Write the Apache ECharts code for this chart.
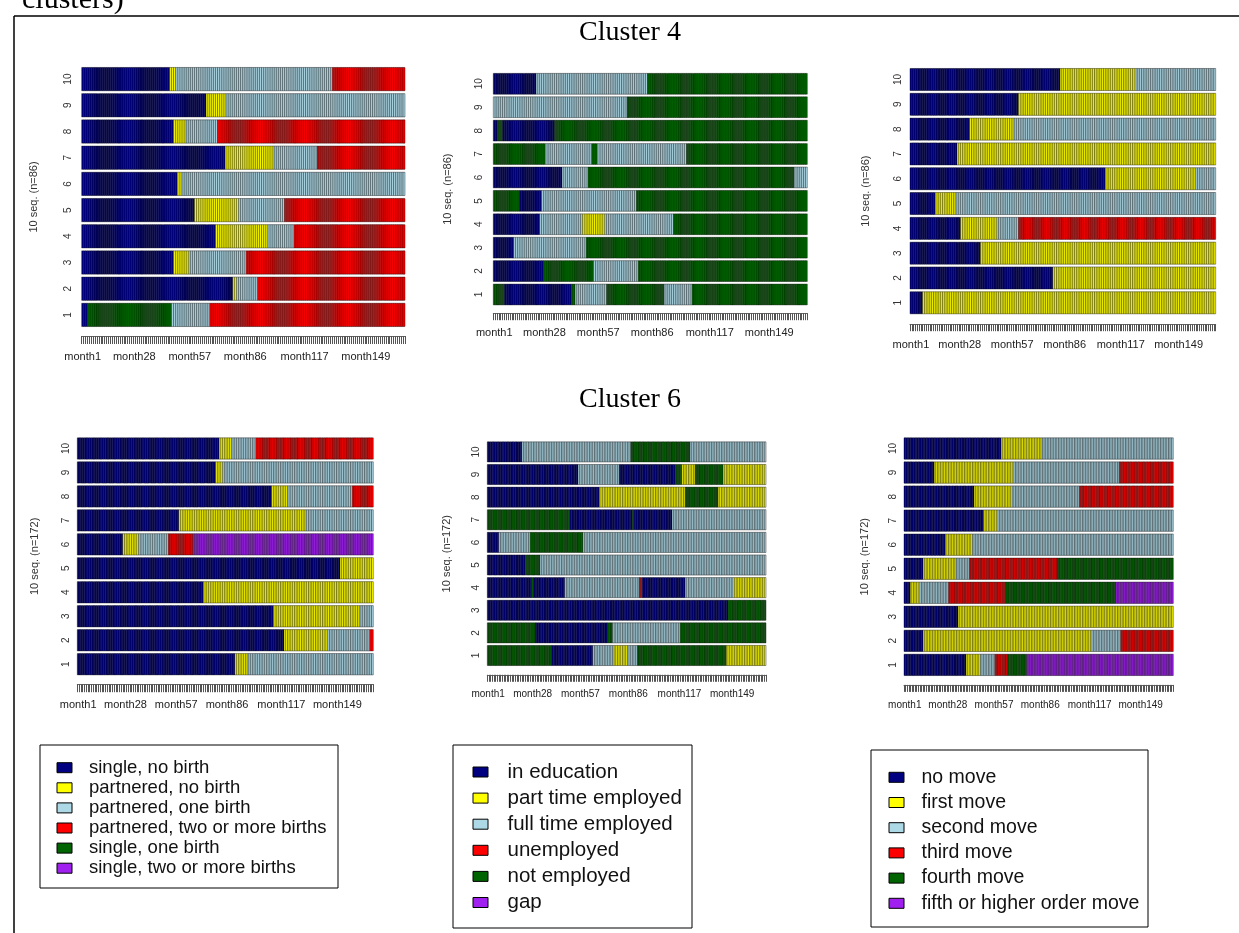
<!DOCTYPE html>
<html>
<head>
<meta charset="utf-8">
<script src="https://cdn.jsdelivr.net/npm/echarts@6/dist/echarts.min.js"></script>
<style>
  html, body { margin: 0; padding: 0; background: #fff; }
  #chart { width: 1239px; height: 933px; }
</style>
</head>
<body>
<div id="chart"></div>
<script>
// ---- time axis ----
const MONTH_COUNT = 169;
const months = Array.from({ length: MONTH_COUNT }, (_, i) => 'month' + (i + 1));
const monthTickLabels = ['month1', 'month28', 'month57', 'month86', 'month117', 'month149'];
const sequenceNumbers = ['1', '2', '3', '4', '5', '6', '7', '8', '9', '10'];

// ---- state alphabets (same colour order for all three channels) ----
const stateColors = ['#000080', '#FFFF00', '#ADD8E6', '#FF0000', '#006400', '#A020F0'];
const familyStates = ['single, no birth', 'partnered, no birth', 'partnered, one birth',
  'partnered, two or more births', 'single, one birth', 'single, two or more births'];
const activityStates = ['in education', 'part time employed', 'full time employed',
  'unemployed', 'not employed', 'gap'];
const residenceStates = ['no move', 'first move', 'second move', 'third move',
  'fourth move', 'fifth or higher order move'];

// ---- sequences: each row is a list of spells [state, last month of spell], rows 1..10 ----
const family4 = [
  [[0, 3], [4, 47], [2, 67], [3, 169]],
  [[0, 79], [1, 81], [2, 92], [3, 169]],
  [[0, 48], [1, 56], [2, 86], [3, 169]],
  [[0, 70], [1, 97], [2, 111], [3, 169]],
  [[0, 59], [1, 82], [2, 106], [3, 169]],
  [[0, 50], [1, 52], [2, 169]],
  [[0, 75], [1, 100], [2, 123], [3, 169]],
  [[0, 48], [1, 54], [2, 71], [3, 169]],
  [[0, 65], [1, 75], [2, 169]],
  [[0, 46], [1, 49], [2, 131], [3, 169]]
];
const activity4 = [
  [[4, 6], [0, 42], [4, 44], [2, 61], [4, 92], [2, 107], [4, 169]],
  [[0, 27], [4, 54], [2, 78], [4, 169]],
  [[0, 11], [2, 50], [4, 169]],
  [[0, 25], [2, 48], [1, 60], [2, 97], [4, 169]],
  [[4, 14], [0, 26], [2, 77], [4, 169]],
  [[0, 37], [2, 51], [4, 162], [2, 169]],
  [[4, 28], [2, 53], [4, 56], [2, 104], [4, 169]],
  [[0, 2], [4, 5], [0, 33], [4, 169]],
  [[2, 72], [4, 169]],
  [[0, 23], [2, 83], [4, 169]]
];
const residence4 = [
  [[0, 7], [1, 169]],
  [[0, 79], [1, 169]],
  [[0, 39], [1, 169]],
  [[0, 28], [1, 48], [2, 60], [3, 169]],
  [[0, 14], [1, 25], [2, 169]],
  [[0, 108], [1, 158], [2, 169]],
  [[0, 26], [1, 169]],
  [[0, 33], [1, 57], [2, 169]],
  [[0, 60], [1, 169]],
  [[0, 83], [1, 125], [2, 169]]
];
const family6 = [
  [[0, 90], [1, 97], [2, 169]],
  [[0, 118], [1, 143], [2, 167], [3, 169]],
  [[0, 112], [1, 161], [2, 169]],
  [[0, 72], [1, 169]],
  [[0, 150], [1, 169]],
  [[0, 26], [1, 35], [2, 52], [3, 66], [5, 169]],
  [[0, 58], [1, 130], [2, 169]],
  [[0, 111], [1, 120], [2, 157], [3, 169]],
  [[0, 79], [1, 83], [2, 169]],
  [[0, 81], [1, 88], [2, 102], [3, 169]]
];
const activity6 = [
  [[4, 39], [0, 64], [2, 77], [1, 85], [2, 91], [4, 145], [1, 169]],
  [[4, 29], [0, 73], [4, 76], [2, 117], [4, 169]],
  [[0, 146], [4, 169]],
  [[0, 27], [4, 28], [0, 47], [2, 92], [3, 94], [0, 120], [2, 149], [1, 169]],
  [[0, 23], [4, 32], [2, 169]],
  [[0, 7], [2, 26], [4, 58], [2, 169]],
  [[4, 50], [0, 88], [4, 89], [0, 112], [2, 169]],
  [[0, 68], [1, 120], [4, 140], [1, 169]],
  [[0, 55], [2, 80], [0, 114], [4, 118], [1, 126], [4, 143], [1, 169]],
  [[0, 21], [2, 87], [4, 123], [2, 169]]
];
const residence6 = [
  [[0, 39], [1, 48], [2, 57], [3, 65], [4, 77], [5, 169]],
  [[0, 12], [1, 118], [2, 136], [3, 169]],
  [[0, 34], [1, 169]],
  [[0, 4], [1, 10], [2, 28], [3, 64], [4, 133], [5, 169]],
  [[0, 12], [1, 32], [2, 41], [3, 96], [4, 169]],
  [[0, 26], [1, 43], [2, 169]],
  [[0, 50], [1, 59], [2, 169]],
  [[0, 44], [1, 68], [2, 110], [3, 169]],
  [[0, 19], [1, 69], [2, 135], [3, 169]],
  [[0, 61], [1, 86], [2, 169]]
];
const clusterSizes = { c4: 86, c6: 172 };

// ---- panel layout ----
const panels = [
  { rows: family4,    n: clusterSizes.c4, grid: { left: 81.7,  top: 66,    width: 323.3, height: 262 },   offset: 8, tick: 8, margin: 15, font: 11, yMargin: 8, nameGap: 42 },
  { rows: activity4,  n: clusterSizes.c4, grid: { left: 493.3, top: 72.1,  width: 314,   height: 234.1 }, offset: 7, tick: 7, margin: 14, font: 11, yMargin: 9, nameGap: 40 },
  { rows: residence4, n: clusterSizes.c4, grid: { left: 910,   top: 67.1,  width: 305.7, height: 248.1 }, offset: 9, tick: 7, margin: 15, font: 11, yMargin: 7, nameGap: 39 },
  { rows: family6,    n: clusterSizes.c6, grid: { left: 77.3,  top: 436.5, width: 296,   height: 239.7 }, offset: 8, tick: 8, margin: 15, font: 11, yMargin: 6, nameGap: 37 },
  { rows: activity6,  n: clusterSizes.c6, grid: { left: 487.3, top: 440.6, width: 278.7, height: 226.2 }, offset: 8, tick: 7, margin: 14, font: 10, yMargin: 6, nameGap: 35 },
  { rows: residence6, n: clusterSizes.c6, grid: { left: 904,   top: 436.5, width: 269.3, height: 240.4 }, offset: 8, tick: 7, margin: 15, font: 10, yMargin: 6, nameGap: 34 }
];

// expand spells into one cell per month: [monthIndex, rowIndex, state]
function toCells(rows) {
  const cells = [];
  rows.forEach((spells, r) => {
    let m = 0;
    spells.forEach(([state, end]) => {
      for (; m < end; m++) cells.push([m, r, state]);
    });
  });
  return cells;
}

function renderCell(params, api) {
  const c = api.coord([api.value(0), api.value(1)]);
  const size = api.size([1, 1]);
  const h = size[1] * 0.89;
  return {
    type: 'rect',
    shape: { x: c[0] - size[0] / 2, y: c[1] - h / 2, width: size[0], height: h },
    style: { fill: stateColors[api.value(2)], stroke: 'rgba(0,0,0,0.38)', lineWidth: 1 }
  };
}

const SANS = 'Liberation Sans, Arial, sans-serif';
const SERIF = 'Liberation Serif, Times New Roman, serif';

const grids = [], xAxes = [], yAxes = [], series = [];
panels.forEach((p, i) => {
  grids.push(Object.assign({ containLabel: false }, p.grid));
  xAxes.push({
    type: 'category', gridIndex: i, data: months, boundaryGap: true, offset: p.offset,
    axisLine: { show: true, lineStyle: { color: '#666', width: 1 } },
    axisTick: { show: true, interval: 0, length: p.tick, lineStyle: { color: '#555', width: 1 } },
    axisLabel: {
      interval: (idx, val) => monthTickLabels.indexOf(val) >= 0,
      margin: p.margin, fontSize: p.font, color: '#222', fontFamily: SANS
    },
    splitLine: { show: false }
  });
  yAxes.push({
    type: 'category', gridIndex: i, data: sequenceNumbers, boundaryGap: true,
    axisLine: { show: false }, axisTick: { show: false }, splitLine: { show: false },
    axisLabel: { rotate: 90, margin: p.yMargin, fontSize: 10, color: '#333', fontFamily: SANS },
    name: '10 seq. (n=' + p.n + ')', nameLocation: 'middle', nameRotate: 90, nameGap: p.nameGap,
    nameTextStyle: { fontSize: 11, color: '#333', fontFamily: SANS }
  });
  series.push({
    type: 'custom', xAxisIndex: i, yAxisIndex: i,
    renderItem: renderCell, encode: { x: 0, y: 1 },
    data: toCells(p.rows), silent: true, animation: false
  });
});

// ---- legends ----
const legends = [
  { labels: familyStates,    box: [40, 745, 298, 143],  sx: 57,  tx: 89,    y0: 767.7, dy: 20.1, font: 18.5 },
  { labels: activityStates,  box: [453, 745, 239, 183], sx: 473, tx: 507.5, y0: 772,   dy: 26.1, font: 20.5 },
  { labels: residenceStates, box: [871, 750, 277, 177], sx: 889, tx: 921.5, y0: 777.3, dy: 25.2, font: 19.5 }
];
const graphics = [
  { type: 'line', shape: { x1: 14, y1: 16, x2: 1239, y2: 16 }, style: { stroke: '#000', lineWidth: 1.5 } },
  { type: 'line', shape: { x1: 14, y1: 16, x2: 14, y2: 933 }, style: { stroke: '#000', lineWidth: 1.5 } },
  { type: 'text', x: 22, y: 0, style: { text: 'clusters)', font: '30px ' + SERIF, fill: '#000', textVerticalAlign: 'middle' } },
  { type: 'text', x: 630, y: 33, style: { text: 'Cluster 4', font: '28px ' + SERIF, fill: '#000', textAlign: 'center', textVerticalAlign: 'middle' } },
  { type: 'text', x: 630, y: 400, style: { text: 'Cluster 6', font: '28px ' + SERIF, fill: '#000', textAlign: 'center', textVerticalAlign: 'middle' } }
];
legends.forEach(L => {
  graphics.push({ type: 'rect', shape: { x: L.box[0], y: L.box[1], width: L.box[2], height: L.box[3] },
    style: { fill: '#fff', stroke: '#000', lineWidth: 1 } });
  L.labels.forEach((label, k) => {
    const y = L.y0 + k * L.dy;
    graphics.push({ type: 'rect', shape: { x: L.sx, y: y - 5, width: 15, height: 10 },
      style: { fill: stateColors[k], stroke: '#000', lineWidth: 1 } });
    graphics.push({ type: 'text', x: L.tx, y: y, style: { text: label, font: L.font + 'px ' + SANS,
      fill: '#111', textVerticalAlign: 'middle' } });
  });
});

const chart = echarts.init(document.getElementById('chart'), null, { renderer: 'canvas' });
chart.setOption({
  backgroundColor: '#fff',
  animation: false,
  textStyle: { fontFamily: SANS },
  grid: grids, xAxis: xAxes, yAxis: yAxes, series: series,
  graphic: graphics
});
</script>
</body>
</html>
